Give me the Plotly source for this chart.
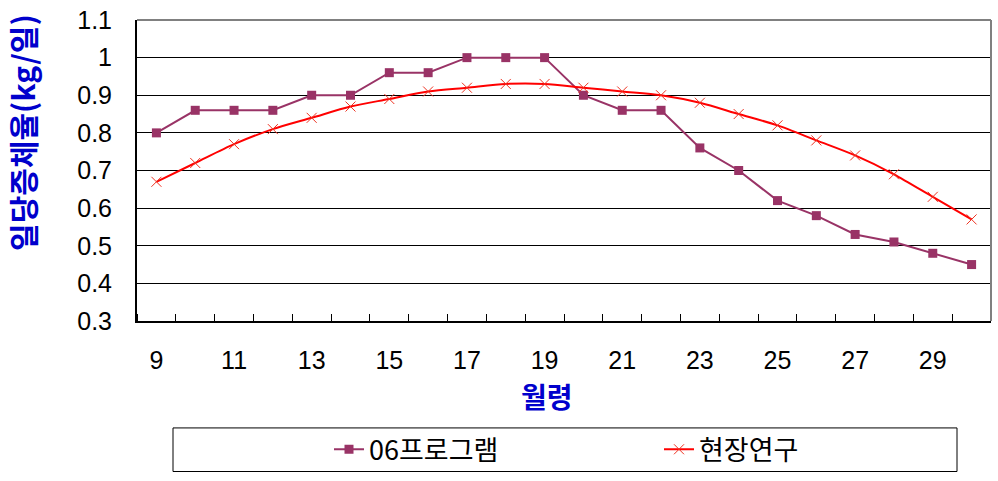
import plotly.graph_objects as go

months = list(range(9, 31))
program06 = [0.80, 0.86, 0.86, 0.86, 0.90, 0.90, 0.96, 0.96, 1.00, 1.00, 1.00,
             0.90, 0.86, 0.86, 0.76, 0.70, 0.62, 0.58, 0.53, 0.51, 0.48, 0.45]
field_study = [0.67, 0.72, 0.77, 0.81, 0.84, 0.87, 0.89, 0.91, 0.92, 0.93, 0.93,
               0.92, 0.91, 0.90, 0.88, 0.85, 0.82, 0.78, 0.74, 0.69, 0.63, 0.57]
x_ticks = list(range(9, 31, 2))
y_ticks = [0.3, 0.4, 0.5, 0.6, 0.7, 0.8, 0.9, 1.0, 1.1]
y_tick_text = ["0.3", "0.4", "0.5", "0.6", "0.7", "0.8", "0.9", "1", "1.1"]

W, H = 998, 481
L, R, T, B = 137, 7, 20, 157
pw, ph = W - L - R, H - T - B

def px_x(x):
    return (x - L) / pw

def px_y(y):
    return (H - B - y) / ph

fig = go.Figure()
fig.add_trace(go.Scatter(
    x=months, y=program06, name="06프로그램", mode="lines+markers",
    line=dict(color="#993366", width=2),
    marker=dict(symbol="square", size=9, color="#993366"),
))
fig.add_trace(go.Scatter(
    x=months, y=field_study, name="현장연구", mode="lines+markers",
    line=dict(color="#FF0000", width=2, shape="spline", smoothing=0.8),
    marker=dict(symbol="x-thin", size=10, color="#FF0000",
                line=dict(width=1, color="#EE3322")),
))

sans = "Liberation Sans, Arial, sans-serif"

fig.update_layout(
    width=W, height=H,
    margin=dict(l=L, r=R, t=T, b=B),
    paper_bgcolor="white", plot_bgcolor="white",
    font=dict(family=sans, color="black"),
    showlegend=True,
    legend=dict(
        orientation="h", x=px_x(329), xanchor="left",
        y=px_y(454), yanchor="middle",
        font=dict(family="Noto Sans CJK KR", size=27, color="black"),
        entrywidth=285, bgcolor="rgba(0,0,0,0)",
    ),
    xaxis=dict(
        range=[8.5, 30.5], tickmode="array", tickvals=x_ticks,
        ticktext=[str(v) for v in x_ticks],
        ticks="", showgrid=False, zeroline=False,
        showline=True, linecolor="black", linewidth=2,
        tickfont=dict(family=sans, size=25, color="black"),
        ticklabelstandoff=16,
        minor=dict(ticks="inside", ticklen=7, tickcolor="black", tick0=0.5, dtick=1,
                   showgrid=False),
    ),
    yaxis=dict(
        range=[0.3, 1.1], tickmode="array", tickvals=y_ticks, ticktext=y_tick_text,
        ticks="", showgrid=True, gridcolor="black", gridwidth=1, zeroline=False,
        showline=True, linecolor="black", linewidth=2,
        tickfont=dict(family=sans, size=25, color="black"),
        ticklabelstandoff=18,
    ),
    shapes=[
        dict(type="line", xref="paper", yref="paper", x0=0, x1=1, y0=1, y1=1,
             line=dict(color="#808080", width=2)),
        dict(type="line", xref="paper", yref="paper", x0=1, x1=1, y0=0, y1=1,
             line=dict(color="#808080", width=2)),
        dict(type="rect", xref="paper", yref="paper",
             x0=px_x(173), x1=px_x(957), y0=px_y(476), y1=px_y(432),
             line=dict(color="black", width=1)),
    ],
    annotations=[
        dict(text="<b>일당증체율(kg/일)</b>", textangle=-90, showarrow=False,
             xref="paper", yref="paper", x=px_x(22), y=px_y(133),
             xanchor="center", yanchor="middle",
             font=dict(family="Noto Sans CJK KR", size=30, color="#0000CC")),
        dict(text="<b>월령</b>", showarrow=False,
             xref="paper", yref="paper", x=px_x(547), y=px_y(400),
             xanchor="center", yanchor="middle",
             font=dict(family="Noto Sans CJK KR", size=28, color="#0000CC")),
    ],
)

fig.write_html("out.html")
